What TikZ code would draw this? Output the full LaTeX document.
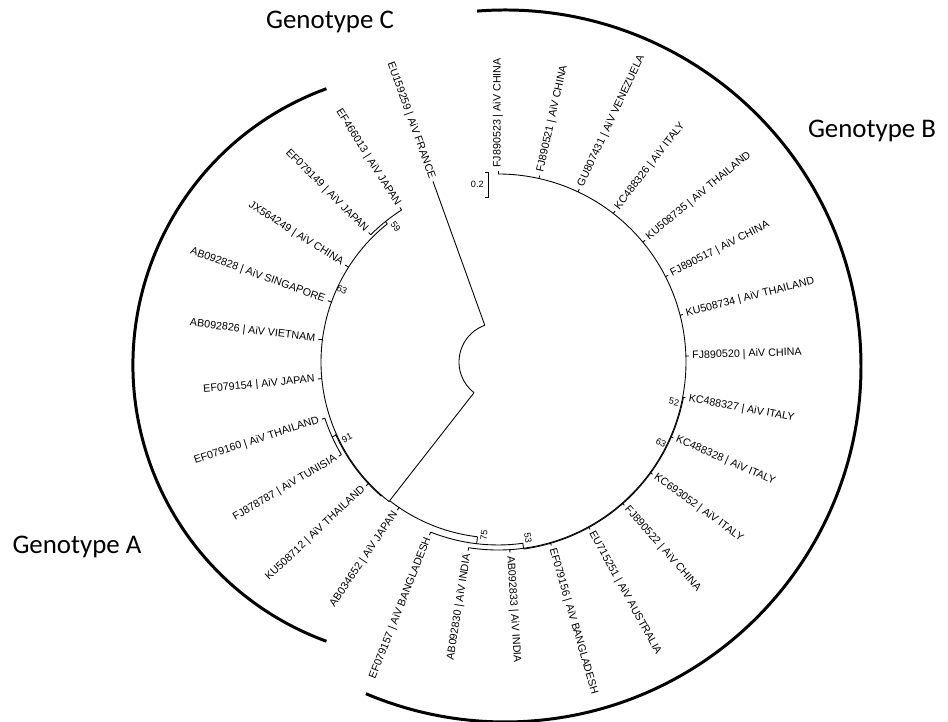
\documentclass[tikz,border=0pt]{standalone}
\usepackage{fontspec}
\setmainfont{Liberation Sans}
\newfontfamily\genofont{Carlito}
\usetikzlibrary{positioning, calc}

\begin{document}
\begin{tikzpicture}[
    x=0.02cm, y=0.02cm,
    branch/.style={line width=0.5pt, black},
    clade/.style={line width=1.7pt, black},
    tiplabel/.style={font=\fontsize{6.1}{7}\selectfont, inner sep=0pt},
    boot/.style={font=\fontsize{5.2}{6}\selectfont, inner sep=0pt},
    genotype/.style={font=\genofont\fontsize{15.3}{18}\selectfont, inner sep=0pt}
]
\useasboundingbox (0,0) rectangle (948,722);

% Genotype brackets
\draw[clade] (427,357) ++(110:294) arc[start angle=110, end angle=250, radius=294];
\draw[clade] (505,356) ++(94.5:356) arc[start angle=94.5, end angle=-113, radius=356];

\node[genotype] (gC) at (330,700) {Genotype C};
\node[genotype] (gB) at (872,591) {Genotype B};
\node[genotype] (gA) at (77,175) {Genotype A};

% Tree
\begin{scope}[shift={(498,360)}]
\coordinate (root) at (0,0);

% root and backbone
\draw[branch] (109.8:39) arc[start angle=109.8, end angle=232, radius=39];
\draw[branch] (232:39) -- (232:176);
\draw[branch] (232:176) arc[start angle=232, end angle=263.3, radius=176];

% clade A
\draw[branch] (232:176) -- (232:177) arc[start angle=232, end angle=128.7, radius=177];
\draw[branch] (229:177.8) arc[start angle=229, end angle=204, radius=177.8];
\draw[branch] (128.7:177) -- (128.7:180);
\draw[branch] (122.4:180) arc[start angle=122.4, end angle=135, radius=180];
\draw[branch] (204.3:177) -- (204.3:182);
\draw[branch] (198:182) arc[start angle=198, end angle=210.6, radius=182];

% clade B
\draw[branch] (263.3:176) -- (263.3:183);
\draw[branch] (248.4:183) arc[start angle=248.4, end angle=277.8, radius=183];
\draw[branch] (277.8:183) -- (277.8:188);
\draw[branch] (261:188) arc[start angle=261, end angle=450, radius=188];
\draw[branch] (277.8:188.8) arc[start angle=277.8, end angle=349.2, radius=188.8];

% tips
\foreach \k/\txt/\ra/\rb in {
  0/FJ890523 | AiV CHINA/188/191,
  1/FJ890521 | AiV CHINA/188/191,
  2/GU807431 | AiV VENEZUELA/188/191,
  3/KC488326 | AiV ITALY/188/191,
  4/KU508735 | AiV THAILAND/188/191,
  5/FJ890517 | AiV CHINA/188/191,
  6/KU508734 | AiV THAILAND/188/191,
  7/FJ890520 | AiV CHINA/188/191,
  8/KC488327 | AiV ITALY/188/191,
  9/KC488328 | AiV ITALY/188/191,
  10/KC693052 | AiV ITALY/188/191,
  11/FJ890522 | AiV CHINA/188/191,
  12/EU715251 | AiV AUSTRALIA/188/191,
  13/EF079156 | AiV BANGLADESH/188/191,
  14/AB092833 | AiV INDIA/188/191,
  15/AB092830 | AiV INDIA/188/191,
  16/EF079157 | AiV BANGLADESH/183/186,
  17/AB034652 | AiV JAPAN/176/179,
  18/KU508712 | AiV THAILAND/177/181,
  19/FJ878787 | AiV TUNISIA/182/185,
  20/EF079160 | AiV THAILAND/182/185,
  21/EF079154 | AiV JAPAN/177/181,
  22/AB092826 | AiV VIETNAM/177/181,
  23/AB092828 | AiV SINGAPORE/177/181,
  24/JX564249 | AiV CHINA/177/181,
  25/EF079149 | AiV JAPAN/180/183,
  26/EF466013 | AiV JAPAN/180/183,
  27/EU159259 | AiV FRANCE/39/192}{
  \pgfmathsetmacro\ang{mod(450-12.6*\k,360)}
  \pgfmathsetmacro\rl{\rb+3}
  \pgfmathtruncatemacro\lft{(\ang>90.5)&&(\ang<269.5)}
  \draw[branch] (\ang:\ra) -- (\ang:\rb);
  \ifnum\lft=1
    \node[tiplabel, anchor=east, rotate=\ang-180] (t\k) at (\ang:\rl) {\txt};
  \else
    \node[tiplabel, anchor=west, rotate=\ang] (t\k) at (\ang:\rl) {\txt};
  \fi
}

% bootstrap values
\node[boot, rotate=-53] (b59) at (127:170) {59};
\node[boot, rotate=-24.8] (b63a) at (155.2:171.8) {63};
\node[boot, rotate=26.7] (b91) at (206.7:169) {91};
\node[boot, rotate=85.4] (b75) at (265.4:174) {75};
\node[boot, rotate=-80.3] (b53) at (279.7:178.5) {53};
\node[boot, rotate=-12.8] (b52) at (-12.8:180.5) {52};
\node[boot, rotate=-26.3] (b63b) at (-26.3:181.8) {63};
\end{scope}

% scale bar
\draw[branch] (485,550) -- (488,550) -- (488,525) -- (485,525);
\node[boot, anchor=east] (sc) at (484,538) {0.2};

\end{tikzpicture}
\end{document}
